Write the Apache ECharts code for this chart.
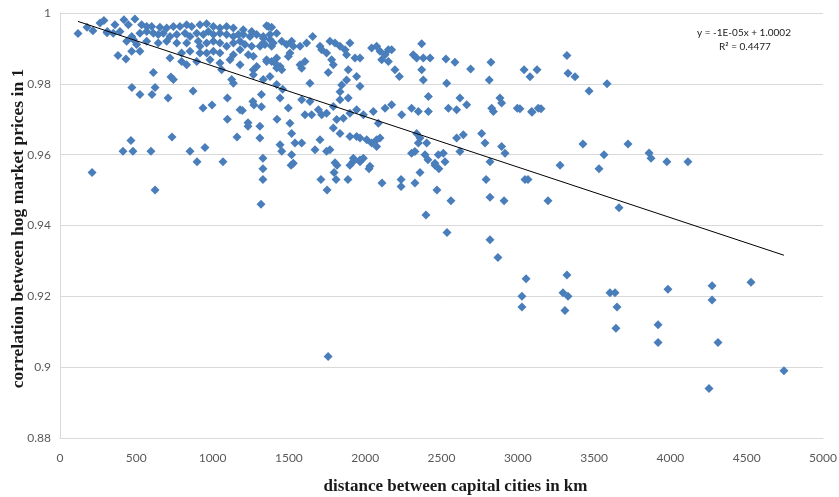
<!DOCTYPE html>
<html>
<head>
<meta charset="utf-8">
<script src="https://cdn.jsdelivr.net/npm/echarts@6/dist/echarts.min.js"></script>
<style>
  html, body { margin: 0; padding: 0; background: #ffffff; }
  #chart { width: 839px; height: 497px; }
</style>
</head>
<body>
<div id="chart"></div>
<script>
// Distance between provincial capitals (km)
const distanceKm = [
  118,177,216,308,380,432,471,524,603,708,623,872,937,996,1097,1097,1160,1180,1195,1232,1232,1264,1271,1320,1310,1320,1310,1330,1422,734,413,478,465,596,852,898,950,1068,210,623,1330,1330,1317,
  262,288,360,419,448,491,535,568,601,655,699,743,786,830,863,917,961,1005,1048,1092,1136,1201,1256,1354,1387,
  310,349,393,470,524,568,612,644,677,721,765,819,852,896,939,972,1005,1048,1092,1136,1169,1201,1245,1289,1332,1376,1420,
  437,481,502,568,644,699,765,830,906,917,961,1005,1048,1092,1136,1180,1212,1256,1332,1387,
  470,524,721,797,852,917,961,1005,1048,1136,1180,1234,1267,1354,1420,
  797,830,896,983,1048,1059,1114,1180,1267,1289,1420,
  612,727,743,1125,1136,1267,1332,1376,1420,
  1365,1332,1376,1311,1343,1398,1453,1485,1518,1529,1573,1616,1656,1387,1354,1409,1453,1442,1507,1496,1573,1584,1605,1638,
  1704,1715,1747,1769,1802,1835,1868,1900,1780,1878,1933,1966,1758,1791,1889,1878,1846,1835,1944,1966,
  2042,2075,2097,2130,2152,2173,2108,2152,2195,2224,2315,2337,2381,2425,2370,2370,2381,2529,2588,2691,2824,2813,2534,
  1459,1442,1496,1584,1638,1649,1605,1693,1715,1747,1791,1835,1889,1813,1857,1900,1944,1988,2053,2086,2130,2173,2239,2304,2348,2414,2414,2545,2599,2621,2665,2829,2840,2883,2894,2997,3091,3134,
  1507,1518,1540,1584,1442,1453,1518,1529,1671,1704,1747,1769,1791,1835,1900,1944,1966,2010,2042,2075,2097,2075,1922,1966,1988,2031,2337,2359,2348,2304,2326,2392,2403,2457,2479,2512,2599,2643,2621,2763,2785,2894,2916,
  1514,1710,1750,1802,1815,1796,1809,1887,1900,1920,1966,2025,2110,2235,2235,2326,2359,2398,2411,2457,2483,2470,2523,2562,2536,2792,2818,2818,2910,2818,2870,
  3322,3329,3375,3041,3080,3126,3467,3585,3014,3093,3152,3427,3722,3565,3860,3873,3977,4115,3277,3532,
  3047,3067,3198,3663,3054,3322,3027,3027,3296,3329,3309,3604,3637,3650,3643,3919,3984,4273,4273,4528,
  3919,4312,4744,4253,1757
];

// Correlation between hog market prices of the two provinces
const priceCorrelation = [
  0.9942,0.996,0.995,0.9944,0.988,0.987,0.979,0.977,0.977,0.976,0.979,0.978,0.9732,0.974,0.970,0.976,0.965,0.9727,0.9725,0.969,0.968,0.975,0.974,0.9735,0.968,0.977,0.9647,0.959,0.970,0.965,0.961,0.961,0.964,0.961,0.961,0.958,0.962,0.958,0.955,0.950,0.956,0.953,0.946,
  0.9972,0.9979,0.9967,0.9981,0.9967,0.9983,0.9967,0.9962,0.9962,0.996,0.9958,0.9962,0.9962,0.9967,0.9962,0.9967,0.997,0.9962,0.9958,0.9962,0.9958,0.9953,0.9948,0.9964,0.996,
  0.9948,0.9943,0.9948,0.9934,0.9943,0.9948,0.9943,0.9939,0.9943,0.9934,0.9939,0.9943,0.9934,0.9943,0.9939,0.9948,0.9939,0.9943,0.9939,0.9934,0.9939,0.9939,0.9934,0.9939,0.9929,0.9939,0.9943,
  0.992,0.9925,0.9911,0.992,0.9915,0.992,0.9915,0.9915,0.992,0.9906,0.9915,0.992,0.9915,0.9906,0.9915,0.992,0.9911,0.9906,0.9915,0.9906,
  0.9892,0.9892,0.9873,0.9887,0.9892,0.9887,0.9887,0.9892,0.9887,0.9882,0.9896,0.9882,0.9878,0.9863,0.9873,
  0.9863,0.9854,0.9863,0.9868,0.9859,0.984,0.9868,0.9854,0.984,0.9849,0.9845,
  0.9832,0.9819,0.9812,0.9812,0.9802,0.9826,0.9812,0.9821,0.9798,
  0.9962,0.9934,0.9925,0.9906,0.9911,0.9915,0.992,0.9911,0.992,0.9906,0.9906,0.9915,0.9934,0.9863,0.9868,0.9859,0.984,0.9849,0.9887,0.9877,0.9854,0.9844,0.9863,0.9802,
  0.9906,0.9896,0.9887,0.992,0.9915,0.9906,0.9896,0.9915,0.9868,0.9882,0.9873,0.9873,0.9832,0.9854,0.984,0.9811,0.9797,0.9778,0.9821,0.9793,
  0.9901,0.9906,0.9892,0.9882,0.9896,0.9896,0.9868,0.9863,0.984,0.9821,0.9882,0.9873,0.9873,0.9873,0.9913,0.984,0.9811,0.987,0.9861,0.9842,0.9861,0.9811,0.9802,
  0.9785,0.976,0.9732,0.9755,0.975,0.9713,0.9713,0.9727,0.9713,0.9717,0.9736,0.9755,0.976,0.9699,0.9703,0.9717,0.9727,0.9713,0.9722,0.9689,0.9731,0.9741,0.9713,0.9731,0.9722,0.9722,0.9764,0.9731,0.9727,0.976,0.9741,0.9731,0.9722,0.976,0.9746,0.9731,0.9722,0.9731,
  0.9689,0.966,0.9633,0.9633,0.9628,0.961,0.96,0.9576,0.9614,0.9642,0.961,0.9614,0.9675,0.966,0.9651,0.9651,0.9647,0.9642,0.9633,0.9642,0.9647,0.9623,0.959,0.9585,0.959,0.9567,0.966,0.9647,0.9633,0.9604,0.9609,0.96,0.9633,0.9576,0.96,0.9604,0.9647,0.9656,0.9609,0.966,0.9633,0.9623,0.9604,
  0.957,0.953,0.950,0.9577,0.957,0.955,0.953,0.953,0.957,0.958,0.958,0.956,0.952,0.953,0.951,0.952,0.955,0.943,0.9586,0.957,0.956,0.950,0.958,0.947,0.938,0.953,0.958,0.948,0.947,0.936,0.931,
  0.988,0.983,0.982,0.984,0.982,0.984,0.978,0.980,0.973,0.972,0.973,0.963,0.963,0.960,0.9605,0.959,0.958,0.958,0.957,0.956,
  0.953,0.953,0.947,0.945,0.925,0.926,0.920,0.917,0.921,0.920,0.916,0.921,0.921,0.917,0.911,0.912,0.922,0.923,0.919,0.924,
  0.907,0.907,0.899,0.894,0.903
];

// Axis settings
const yTicks = { min: 0.88, max: 1, step: 0.02 };
const xTicks = { min: 0, max: 5000, step: 500 };
const trendLabel = ['y = -1E-05x + 1.0002', 'R\u00B2 = 0.4477'];

const points = distanceKm.map((d, i) => [d, priceCorrelation[i]]);

// Ordinary least-squares linear trend over the plotted pairs
const n = points.length;
let sx = 0, sy = 0, sxx = 0, sxy = 0;
points.forEach(([x, y]) => { sx += x; sy += y; sxx += x * x; sxy += x * y; });
const slope = (n * sxy - sx * sy) / (n * sxx - sx * sx);
const intercept = (sy - slope * sx) / n;
const xMin = Math.min(...distanceKm);
const xMax = Math.max(...distanceKm);
const trend = [[xMin, intercept + slope * xMin], [xMax, intercept + slope * xMax]];

const chart = echarts.init(document.getElementById('chart'), null, { renderer: 'canvas' });
const labelFont = 'Lato, "Open Sans", sans-serif';
const titleFont = '"Liberation Serif", serif';

chart.setOption({
  animation: false,
  backgroundColor: '#ffffff',
  grid: { left: 60, right: 16, top: 13, bottom: 59, containLabel: false, outerBoundsMode: 'none' },
  xAxis: {
    type: 'value',
    min: xTicks.min, max: xTicks.max, interval: xTicks.step,
    name: 'distance between capital cities in km',
    nameLocation: 'middle', nameGap: 40, nameMoveOverlap: false,
    nameTextStyle: { fontFamily: titleFont, fontWeight: 'bold', fontSize: 17, color: '#1a1a1a', padding: [0, 0, 0, 28] },
    axisLine: { show: true, lineStyle: { color: '#d9d9d9' } },
    axisTick: { show: false },
    splitLine: { show: false },
    axisLabel: { color: '#595959', fontFamily: labelFont, fontSize: 12, margin: 14, formatter: v => String(v) }
  },
  yAxis: {
    type: 'value',
    min: yTicks.min, max: yTicks.max, interval: yTicks.step,
    name: 'correlation between hog market prices in 1',
    nameLocation: 'middle', nameGap: 33, nameRotate: 90, nameMoveOverlap: false,
    nameTextStyle: { fontFamily: titleFont, fontWeight: 'bold', fontSize: 17.5, color: '#1a1a1a', padding: [0, 6, 0, 0] },
    axisLine: { show: true, lineStyle: { color: '#d9d9d9' } },
    axisTick: { show: false },
    splitLine: { show: true, lineStyle: { color: '#d9d9d9', width: 1 } },
    axisLabel: {
      color: '#595959', fontFamily: labelFont, fontSize: 12, margin: 9,
      formatter: v => String(Number(v.toFixed(2)))
    }
  },
  series: [
    {
      type: 'scatter',
      data: points,
      symbol: 'diamond',
      symbolSize: [9, 9],
      itemStyle: { color: '#4a7ebb', opacity: 1 },
      z: 2
    },
    {
      type: 'line',
      data: trend,
      showSymbol: false,
      symbol: 'none',
      lineStyle: { color: '#000000', width: 1 },
      z: 3,
      silent: true
    }
  ],
  graphic: [
    {
      type: 'text', left: 697, top: 28,
      style: { text: trendLabel[0], fill: '#1a1a1a', font: '10px ' + labelFont }
    },
    {
      type: 'text', left: 719, top: 42,
      style: { text: trendLabel[1], fill: '#1a1a1a', font: '10px ' + labelFont }
    }
  ]
});
</script>
</body>
</html>
